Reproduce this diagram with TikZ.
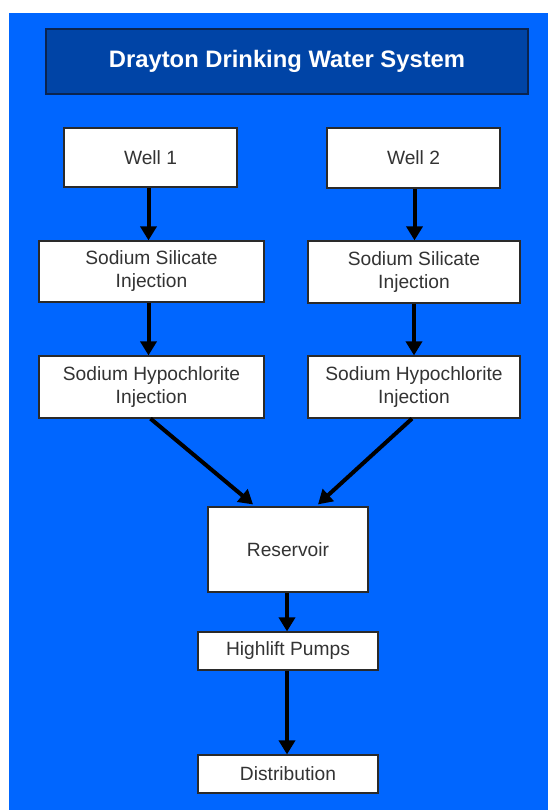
\documentclass[tikz,border=0pt]{standalone}
\usepackage{fontspec}
\setmainfont{Liberation Sans}
\usetikzlibrary{arrows.meta,positioning}
\definecolor{bgblue}{HTML}{0066FF}
\definecolor{titleblue}{HTML}{0044A6}
\definecolor{titleedge}{HTML}{0A2450}
\definecolor{txtgray}{HTML}{333333}
\definecolor{boxedge}{HTML}{2A2A2A}
\tikzset{
  procbox/.style={draw=boxedge, line width=1.2pt, fill=white, text=txtgray, align=center,
    font=\fontsize{19.2}{23}\selectfont, inner sep=0pt},
  titlebox/.style={draw=titleedge, line width=1.5pt, fill=titleblue, text=white,
    font=\fontsize{23.8}{27}\selectfont\bfseries, inner sep=0pt},
  flow/.style={line width=4pt, black, -{Triangle[length=14pt,width=16pt]}}
}
\begin{document}
\begin{tikzpicture}[x=1pt,y=-1pt]
\useasboundingbox (0,0) rectangle (548,810);
\fill[bgblue] (9,13) rectangle (548,810);
\node[titlebox, minimum width=482pt, minimum height=65pt] (title) at (287,61.5) {Drayton Drinking Water System};
\node[procbox, minimum width=173pt, minimum height=59pt] (well1) at (150.5,157.5) {Well 1};
\node[procbox, minimum width=173pt, minimum height=60pt] (well2) at (413.5,158) {Well 2};
\node[procbox, minimum width=225pt, minimum height=61pt] (sil1) at (151.5,271.5) {Sodium Silicate\\Injection};
\node[procbox, minimum width=212pt, minimum height=62pt] (sil2) at (414,272) {Sodium Silicate\\Injection};
\node[procbox, minimum width=225pt, minimum height=62pt] (hyp1) at (151.5,387) {Sodium Hypochlorite\\Injection};
\node[procbox, minimum width=212pt, minimum height=62pt] (hyp2) at (414,387) {Sodium Hypochlorite\\Injection};
\node[procbox, minimum width=160pt, minimum height=85pt] (res) at (288,549.5) {Reservoir};
\node[procbox, minimum width=180pt, minimum height=38pt] (pump) at (288,651) {Highlift Pumps};
\node[procbox, minimum width=180pt, minimum height=38pt] (dist) at (288,774) {Distribution};
\coordinate (resL) at ([xshift=-35pt,yshift=2pt]res.north);
\coordinate (resR) at ([xshift=30pt,yshift=2pt]res.north);
\draw[flow] ([xshift=-2pt]well1.south) -- ([xshift=-2pt]well1.south |- sil1.north);
\draw[flow] ([xshift=1pt]well2.south) -- ([xshift=1pt]well2.south |- sil2.north);
\draw[flow] ([xshift=-3pt]sil1.south) -- ([xshift=-3pt]sil1.south |- hyp1.north);
\draw[flow] (sil2.south) -- (sil2.south |- hyp2.north);
\draw[flow] ([xshift=-1pt]hyp1.south) -- (resL);
\draw[flow] ([xshift=-2pt]hyp2.south) -- (resR);
\draw[flow] ([xshift=-1pt]res.south) -- ([xshift=-1pt]res.south |- pump.north);
\draw[flow] ([xshift=-1pt]pump.south) -- ([xshift=-1pt]pump.south |- dist.north);
\end{tikzpicture}
\end{document}
